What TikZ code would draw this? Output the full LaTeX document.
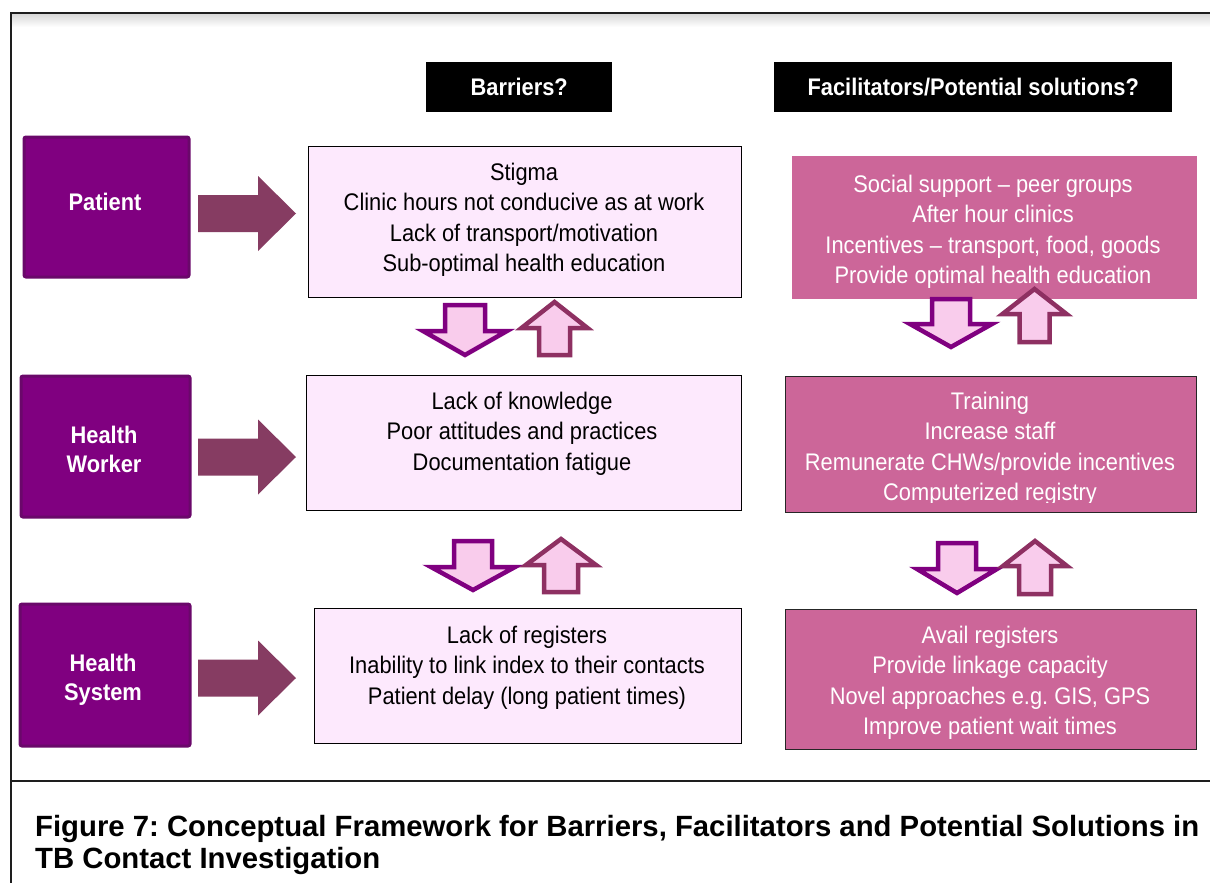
\documentclass[tikz,border=0pt]{standalone}
\usepackage{fontspec}
\setmainfont{Liberation Sans}
\newfontfamily\cond[FakeStretch=0.91]{Liberation Sans}
\frenchspacing
\definecolor{leftfill}{RGB}{128,0,128}
\definecolor{leftborder}{RGB}{106,8,106}
\definecolor{bigarrow}{RGB}{134,60,98}
\definecolor{barfill}{RGB}{253,233,253}
\definecolor{rightfill}{RGB}{204,102,153}
\definecolor{smallfill}{RGB}{249,204,236}
\definecolor{downstroke}{RGB}{128,0,128}
\definecolor{upstroke}{RGB}{142,48,98}
\definecolor{framecol}{RGB}{30,30,30}
\newcommand{\tbDown}[6]{% cx, top, shaft half, wing y, wing half, tip y
  \draw[dnarr] (#1-#3,#2) -- (#1+#3,#2) -- (#1+#3,#4) -- (#1+#5,#4) -- (#1,#6) -- (#1-#5,#4) -- (#1-#3,#4) -- cycle;}
\newcommand{\tbUp}[6]{% cx, tip y, wing y, wing half, shaft half, bottom
  \draw[uparr] (#1,#2) -- (#1+#4,#3) -- (#1+#5,#3) -- (#1+#5,#6) -- (#1-#5,#6) -- (#1-#5,#3) -- (#1-#4,#3) -- cycle;}
\newcommand{\tbRight}[1]{% centre y
  \fill[bigarrow] (198,#1-18.5) -- (258,#1-18.5) -- (258,#1-37.5) -- (296,#1) -- (258,#1+37.5) -- (258,#1+18.5) -- (198,#1+18.5) -- cycle;}
\begin{document}
\begin{tikzpicture}[x=1pt,y=-1pt,
  lbox/.style={fill=leftfill, draw=leftborder, line width=3pt, rounded corners=2pt, anchor=north west, inner sep=0},
  bbox/.style={fill=barfill, draw=black, line width=1.2pt, anchor=north west, inner sep=0},
  rbox/.style={fill=rightfill, draw=black!85, line width=1.2pt, anchor=north west, inner sep=0},
  hdr/.style={fill=black, text=white, font=\cond\bfseries\fontsize{24}{29}\selectfont, anchor=north west, inner sep=0, text height=17.4pt, text depth=0pt},
  txt/.style={font=\cond\fontsize{24}{30.5}\selectfont, align=center, inner sep=0, anchor=north},
  wtxt/.style={txt, text=white},
  lbl/.style={font=\cond\bfseries\fontsize{24}{29.5}\selectfont, text=white, align=center, inner sep=0, anchor=north},
  dnarr/.style={fill=smallfill, draw=downstroke, line width=4.5pt, miter limit=10},
  uparr/.style={fill=smallfill, draw=upstroke, line width=4.5pt, miter limit=10},
  framel/.style={draw=framecol, line width=2pt}]
\useasboundingbox (0,0) rectangle (1210,883);
\fill[white] (0,0) rectangle (1210,883);
% frame
\shade[top color=black!15, bottom color=white] (12,14) rectangle (1210,27);
\draw[framel] (1215,13) -- (11,13) -- (11,890);
\draw[framel] (11,781) -- (1215,781);
% headers
\node[hdr, minimum width=186pt, minimum height=50pt] (hbar) at (426,62) {Barriers?};
\node[hdr, minimum width=398pt, minimum height=50pt] (hfac) at (774,62) {Facilitators/Potential solutions?};
% left boxes
\node[lbox, minimum width=165pt, minimum height=140pt] (pat) at (22.5,135.5) {};
\node[lbox, minimum width=169pt, minimum height=141pt] (hw) at (19.5,374.5) {};
\node[lbox, minimum width=170pt, minimum height=142pt] (hs) at (18.5,602.5) {};
\node[lbl] (patl) at (105,192.6) {Patient};
\node[lbl] (hwl) at (104,425.6) {Health\\Worker};
\node[lbl] (hsl) at (103,653.6) {Health\\System};
% big arrows
\tbRight{213.5}
\tbRight{457}
\tbRight{678}
% barrier boxes
\node[bbox, minimum width=433pt, minimum height=151pt] (b1) at (307.6,145.6) {};
\node[bbox, minimum width=435pt, minimum height=135pt] (b2) at (305.6,374.6) {};
\node[bbox, minimum width=427pt, minimum height=135pt] (b3) at (313.6,607.6) {};
\node[txt] (b1t) at (524,162.6) {Stigma\\Clinic hours not conducive as at work\\Lack of transport/motivation\\Sub-optimal health education};
\node[txt] (b2t) at (522,391.6) {Lack of knowledge\\Poor attitudes and practices\\Documentation fatigue};
\node[txt] (b3t) at (527,625.6) {Lack of registers\\Inability to link index to their contacts\\Patient delay (long patient times)};
% right boxes
\node[rbox, draw=rightfill, minimum width=404pt, minimum height=142pt] (r1) at (792,156) {};
\node[rbox, minimum width=411pt, minimum height=136pt] (r2) at (784.6,375.6) {};
\node[rbox, minimum width=411pt, minimum height=140pt] (r3) at (784.6,608.6) {};
\node[wtxt] (r1t) at (993,174.6) {Social support – peer groups\\After hour clinics\\Incentives – transport, food, goods\\Provide optimal health education};
\begin{scope}
\clip (784,375) rectangle (1197,502);
\node[wtxt] (r2t) at (990,391.6) {Training\\Increase staff\\Remunerate CHWs/provide incentives\\Computerized registry};
\end{scope}
\node[wtxt] (r3t) at (990,625.6) {Avail registers\\Provide linkage capacity\\Novel approaches e.g. GIS, GPS\\Improve patient wait times};
% small arrows
\tbDown{465}{305}{20}{331}{42}{355}
\tbUp{554.5}{302}{328}{33}{15.5}{355}
\tbDown{473}{541}{19}{567}{42}{590}
\tbUp{561}{539}{565}{35}{17}{592}
\tbDown{951}{299}{19}{324}{41}{347}
\tbUp{1034.5}{289}{314}{32}{15}{342}
\tbDown{957}{543}{19}{569}{40}{593}
\tbUp{1035}{541}{566}{32}{16}{594}
% caption
\node[font=\bfseries\fontsize{29.3}{32}\selectfont, align=left, anchor=north west, inner sep=0] (cap) at (35,815.0) {Figure 7: Conceptual Framework for Barriers, Facilitators and Potential Solutions in\\TB Contact Investigation};
\end{tikzpicture}
\end{document}
